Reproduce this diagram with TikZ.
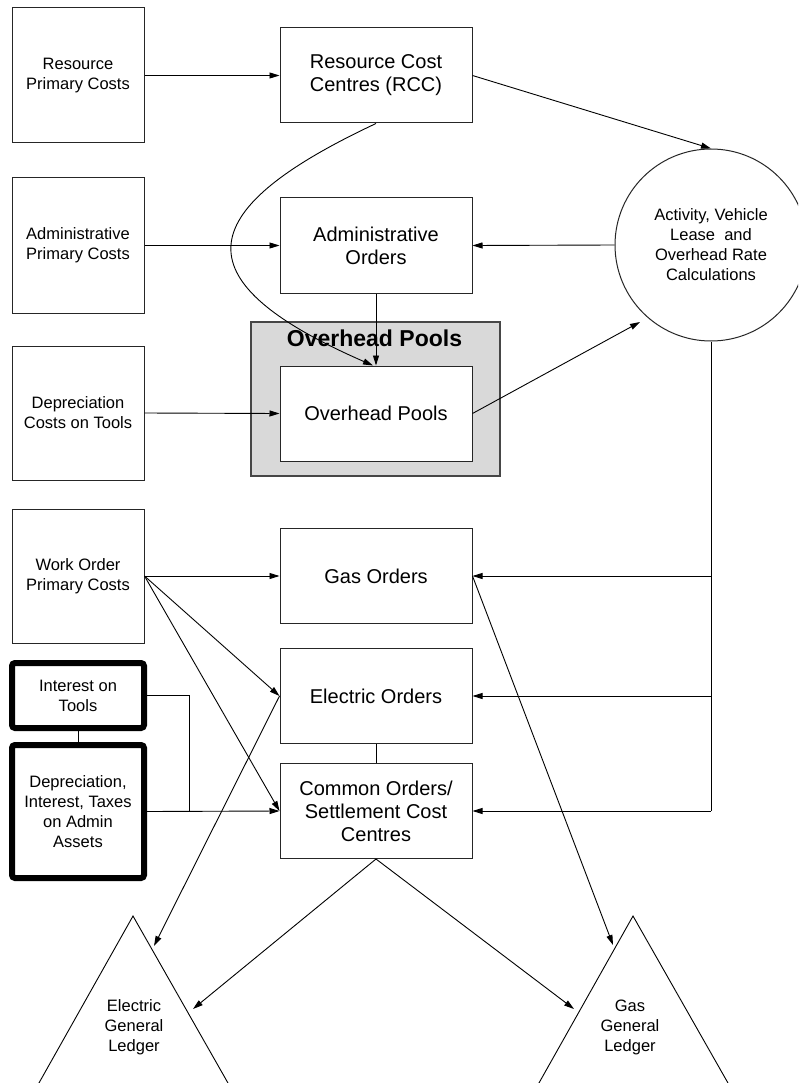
\documentclass[tikz,border=0pt]{standalone}
\usepackage{fontspec}
\setmainfont{Liberation Sans}
\usetikzlibrary{arrows.meta,calc}
\definecolor{poolgrey}{RGB}{217,217,217}
\definecolor{edgegrey}{RGB}{70,70,70}
\begin{document}
\begin{tikzpicture}[x=1pt,y=-1pt,
  small/.style={font=\fontsize{16.5}{20}\selectfont},
  big/.style={font=\fontsize{20}{23}\selectfont},
  box/.style={draw=black!85, line width=1pt, fill=white, align=center, inner sep=0pt},
  srcbox/.style={box, small, minimum width=132pt},
  ordbox/.style={box, big, minimum width=192pt, minimum height=95pt},
  heavybox/.style={draw=black, line width=6pt, rounded corners=3pt, fill=white, small,
    align=center, inner sep=0pt, minimum width=132pt},
  link/.style={draw=black, line width=0.9pt},
  arr/.style={link, -{Triangle[length=10pt,width=6pt]}},
  ledger/.style={small, align=center, inner sep=0pt},
]
\clip (0,0) rectangle (798,1083);

% cost sources on the left
\node[srcbox, minimum height=135pt] (rpc) at (78,75.5) {Resource\\Primary Costs};
\node[srcbox, minimum height=135pt] (apc) at (78,245.5) {Administrative\\Primary Costs};
\node[srcbox, minimum height=134pt] (dct) at (78,413) {Depreciation\\Costs on Tools};
\node[srcbox, minimum height=134pt] (wop) at (78,576) {Work Order\\Primary Costs};
\node[heavybox, minimum height=65pt] (iot) at (78,695.5) {Interest on\\Tools};
\node[heavybox, minimum height=133pt] (dia) at (78,811.5) {Depreciation,\\Interest, Taxes\\on Admin\\Assets};

% centre column
\node[ordbox] (rcc) at (376,75.5) {Resource Cost\\Centres (RCC)};
\node[ordbox] (adm) at (376,245.5) {Administrative\\Orders};
\node[draw=edgegrey, line width=1.2pt, fill=poolgrey, minimum width=249pt,
      minimum height=154pt, inner sep=0pt] (ohp) at (375.5,399) {};
\node[font=\bfseries\fontsize{23}{26}\selectfont, inner sep=0pt] (ohptitle) at (374.5,338) {Overhead Pools};
\node[ordbox] (ohpin) at (376,413.5) {Overhead Pools};
\node[ordbox] (gas) at (376,576) {Gas Orders};
\node[ordbox] (ele) at (376,696) {Electric Orders};
\node[ordbox] (com) at (376,811) {Common Orders/\\Settlement Cost\\Centres};

% rate calculation
\node[circle, draw=black!85, line width=1pt, fill=white, minimum size=192pt,
      inner sep=0pt, small, align=center] (circ) at (711,245)
      {Activity, Vehicle\\Lease\ \ and\\Overhead Rate\\Calculations};

% general ledgers
\draw[link] (32.2,1095) -- (133,916) -- (234.8,1095);
\draw[link] (532.2,1095) -- (633,916) -- (734.8,1095);
\node[ledger] (egl) at (134,1027) {Electric\\General\\Ledger};
\node[ledger] (ggl) at (630,1027) {Gas\\General\\Ledger};

\coordinate (eglA) at (154,946);
\coordinate (eglB) at (193,1009);
\coordinate (gglA) at (613,945);
\coordinate (gglB) at (574,1009);
\coordinate (ratein) at (640,322);
\coordinate (jn) at (189,811);

% flows
\draw[arr] (rpc.east) -- (rcc.west);
\draw[arr] (apc.east) -- (adm.west);
\draw[arr] (dct.east) -- (ohpin.west);
\draw[arr] (rcc.east) -- (circ.north);
\draw[arr] (circ.west) -- (adm.east);
\draw[arr] (adm.south) -- (ohpin.north);
\draw[arr] (rcc.south) .. controls (185,213) and (184,283) .. ([xshift=-3pt]ohpin.north);
\draw[arr] (ohpin.east) -- (ratein);

\draw[link] (circ.south) -- (circ.south |- com.east);
\draw[arr] (circ.south |- gas.east) -- (gas.east);
\draw[arr] (circ.south |- ele.east) -- (ele.east);
\draw[arr] (circ.south |- com.east) -- (com.east);

\draw[arr] (wop.east) -- (gas.west);
\draw[arr] (wop.east) -- (ele.west);
\draw[arr] (wop.east) -- (com.west);

\draw[link] (iot.south) -- (dia.north);
\draw[link] (iot.east) -| (jn);
\draw[arr] (dia.east) -- (com.west);
\draw[link] (ele.south) -- (com.north);

\draw[arr] (ele.west) -- (eglA);
\draw[arr] (com.south) -- (eglB);
\draw[arr] (com.south) -- (gglB);
\draw[arr] (gas.east) -- (gglA);
\end{tikzpicture}
\end{document}
